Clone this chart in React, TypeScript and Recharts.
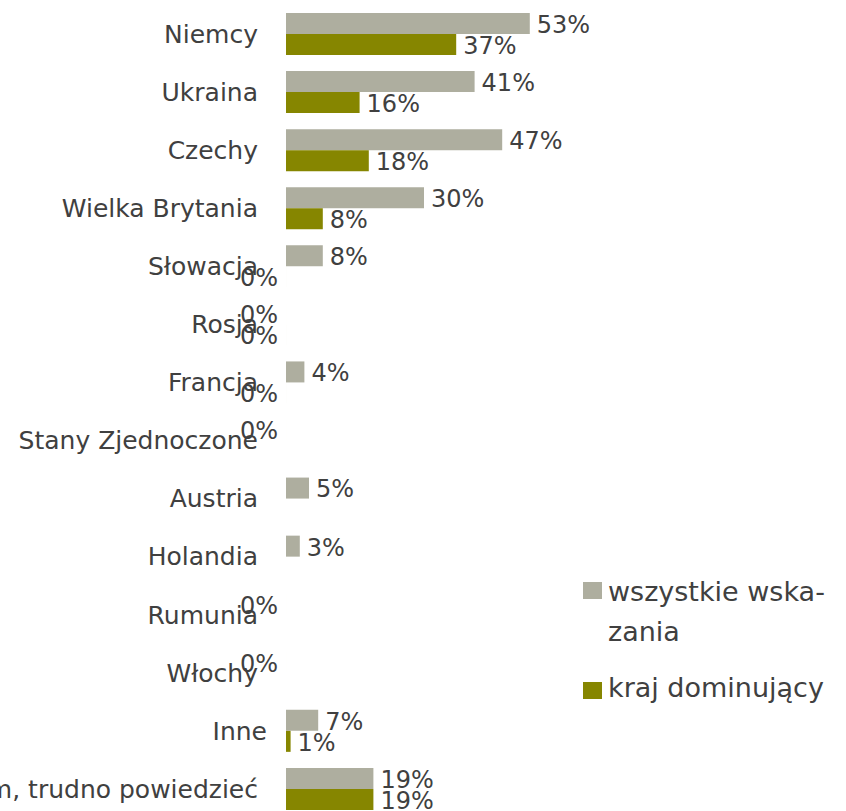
import React from 'react';
import { BarChart, Bar, XAxis, YAxis, LabelList, Legend } from 'recharts';

const categories: string[] = [
  'Niemcy',
  'Ukraina',
  'Czechy',
  'Wielka Brytania',
  'Słowacja',
  'Rosja',
  'Francja',
  'Stany Zjednoczone',
  'Austria',
  'Holandia',
  'Rumunia',
  'Włochy',
  'Inne',
  'Nie wiem, trudno powiedzieć',
];

const allIndications: (number | null)[] = [53, 41, 47, 30, 8, 0, 4, 0, 5, 3, 0, 0, 7, 19];
const dominantCountry: (number | null)[] = [37, 16, 18, 8, 0, 0, 0, null, null, null, null, null, 1, 19];

const seriesNames = ['wszystkie wskazania', 'kraj dominujący'];
const legendLines: string[][] = [['wszystkie wska-', 'zania'], ['kraj dominujący']];

const GRAY = '#AEAE9F';
const OLIVE = '#868600';
const TEXT = '#404040';
const FONT = '"DejaVu Sans", sans-serif';

const data = categories.map((c, i) => ({
  name: c,
  all: allIndications[i],
  dom: dominantCountry[i],
}));

const tickShift: Record<string, number> = { Inne: 9 };

const CategoryTick = (props: any) => {
  const { x, y, payload } = props;
  const shift = tickShift[payload.value] || 0;
  return (
    <text
      x={x + shift}
      y={y}
      dy="0.35em"
      textAnchor="end"
      fill={TEXT}
      fontSize={25}
      fontFamily={FONT}
    >
      {payload.value}
    </text>
  );
};

const ValueLabel = (props: any) => {
  const { x, y, width, height, value } = props;
  if (value === null || value === undefined || value === '') return null;
  const v = Number(value);
  if (Number.isNaN(v)) return null;
  const cy = Number(y) + Number(height) / 2 + 1;
  if (v === 0) {
    return (
      <text x={Number(x) - 8} y={cy} dy="0.35em" textAnchor="end" fill={TEXT} fontSize={24} fontFamily={FONT}>
        {`${v}%`}
      </text>
    );
  }
  return (
    <text x={Number(x) + Number(width) + 7} y={cy} dy="0.35em" textAnchor="start" fill={TEXT} fontSize={24} fontFamily={FONT}>
      {`${v}%`}
    </text>
  );
};

const CustomLegend = () => {
  const colors = [GRAY, OLIVE];
  const tops = [572, 668];
  const squareTops = [582, 682];
  return (
    <div style={{ position: 'relative', width: 846, height: 0 }}>
      {seriesNames.map((name, i) => (
        <React.Fragment key={name}>
          <div
            style={{
              position: 'absolute',
              left: 583,
              top: squareTops[i],
              width: 19,
              height: 17,
              background: colors[i],
            }}
          />
          <div
            title={name}
            style={{
              position: 'absolute',
              left: 608,
              top: tops[i],
              fontFamily: FONT,
              fontSize: 27,
              lineHeight: '40px',
              color: TEXT,
              whiteSpace: 'nowrap',
            }}
          >
            {legendLines[i].map((l, j) => (
              <div key={j}>{l}</div>
            ))}
          </div>
        </React.Fragment>
      ))}
    </div>
  );
};

export default function App() {
  return (
    <div
      style={{
        position: 'absolute',
        left: 0,
        top: 0,
        width: 846,
        height: 811,
        overflow: 'hidden',
        background: '#ffffff',
      }}
    >
      <BarChart
        width={846}
        height={820}
        data={data}
        layout="vertical"
        margin={{ top: 5, right: 100, bottom: 2, left: 0 }}
        barCategoryGap={8}
        barGap={0}
      >
        <XAxis type="number" domain={[0, 100]} hide />
        <YAxis
          type="category"
          dataKey="name"
          width={286}
          axisLine={false}
          tickLine={false}
          tickSize={0}
          tickMargin={28}
          interval={0}
          tick={<CategoryTick />}
        />
        <Legend
          layout="horizontal"
          verticalAlign="middle"
          align="center"
          wrapperStyle={{ left: 0, top: 0, width: 846, height: 0 }}
          content={() => <CustomLegend />}
        />
        <Bar dataKey="all" name={seriesNames[0]} fill={GRAY} minPointSize={0.01} isAnimationActive={false}>
          <LabelList dataKey="all" content={<ValueLabel />} />
        </Bar>
        <Bar dataKey="dom" name={seriesNames[1]} fill={OLIVE} minPointSize={0.01} isAnimationActive={false}>
          <LabelList dataKey="dom" content={<ValueLabel />} />
        </Bar>
      </BarChart>
    </div>
  );
}
